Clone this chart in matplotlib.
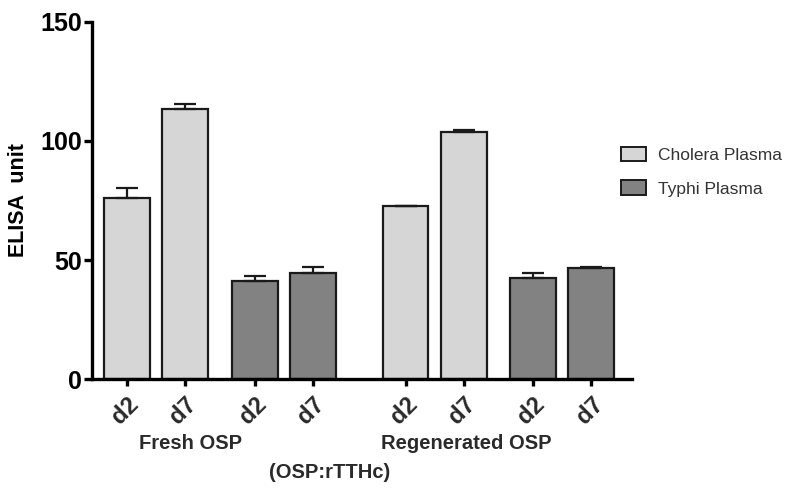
"""Bar chart of ELISA units for fresh vs regenerated OSP conjugate, d2/d7 plasma."""
import matplotlib

matplotlib.use("Agg")
import matplotlib.pyplot as plt  # noqa: E402
from matplotlib.patches import Patch  # noqa: E402

plt.rcParams["font.family"] = ["Liberation Sans", "DejaVu Sans"]

# --- data -------------------------------------------------------------------
days = ["d2", "d7", "d2", "d7", "d2", "d7", "d2", "d7"]
plasma = ["Cholera", "Cholera", "Typhi", "Typhi", "Cholera", "Cholera", "Typhi", "Typhi"]
elisa = [76.0, 113.3, 41.3, 44.7, 72.8, 103.6, 42.3, 46.5]
elisa_err = [4.3, 2.1, 2.2, 2.5, 0.0, 1.0, 2.1, 0.4]
groups = ["Fresh OSP", "Regenerated OSP"]
legend_labels = ["Cholera Plasma", "Typhi Plasma"]

# bar centres: two pairs per OSP group, wider gap between the groups
xpos = [0, 1, 2.2, 3.2, 4.8, 5.8, 7.0, 8.0]

COLORS = {"Cholera": "#d6d6d6", "Typhi": "#828282"}
EDGE = "#1a1a1a"
TEXT = "#2a2a2a"

fig = plt.figure(figsize=(8, 4.95), dpi=100)
ax = fig.add_axes([0.115, 0.234, 0.675, 0.722])

ax.bar(xpos, elisa, width=0.79, color=[COLORS[p] for p in plasma],
       edgecolor=EDGE, linewidth=1.6, zorder=2)
ax.errorbar(xpos, elisa, yerr=[[0] * len(elisa_err), elisa_err], fmt="none",
            ecolor=EDGE, elinewidth=1.6, capsize=8, capthick=1.6, zorder=3)

ax.set_xlim(-0.6, 8.7)
ax.set_ylim(0, 150)
ax.set_yticks([0, 50, 100, 150])
ax.set_xticks(xpos)
ax.set_xticklabels(days, rotation=45, ha="right", rotation_mode="anchor",
                   fontsize=17, fontweight="bold", color=TEXT)

for lbl in ax.get_yticklabels():
    lbl.set_fontsize(18)
    lbl.set_fontweight("bold")

for spine in ("top", "right"):
    ax.spines[spine].set_visible(False)
for spine in ("left", "bottom"):
    ax.spines[spine].set_linewidth(2.4)
ax.tick_params(axis="y", width=2.4, length=6, pad=1)
ax.tick_params(axis="x", width=2.4, length=5, pad=5)

ax.set_ylabel("ELISA  unit", fontsize=15.5, fontweight="bold", labelpad=8)

# group labels under the day ticks
ax.text(1.1, -0.18, groups[0], transform=ax.get_xaxis_transform(),
        ha="center", va="center", fontsize=14.5, fontweight="bold", color=TEXT)
ax.text(5.85, -0.18, groups[1], transform=ax.get_xaxis_transform(),
        ha="center", va="center", fontsize=14.5, fontweight="bold", color=TEXT)
ax.text(3.5, -0.262, "(OSP:rTTHc)", transform=ax.get_xaxis_transform(),
        ha="center", va="center", fontsize=14.5, fontweight="bold", color=TEXT)

handles = [Patch(facecolor=COLORS["Cholera"], edgecolor=EDGE, linewidth=1.4),
           Patch(facecolor=COLORS["Typhi"], edgecolor=EDGE, linewidth=1.4)]
fig.legend(handles, legend_labels, loc="upper left", bbox_to_anchor=(0.757, 0.735),
           frameon=False, fontsize=12.5, handlelength=1.4, handleheight=0.9,
           labelspacing=1.0, handletextpad=0.7, labelcolor="#333333")

fig.savefig("out.png", dpi=100, facecolor="white")
